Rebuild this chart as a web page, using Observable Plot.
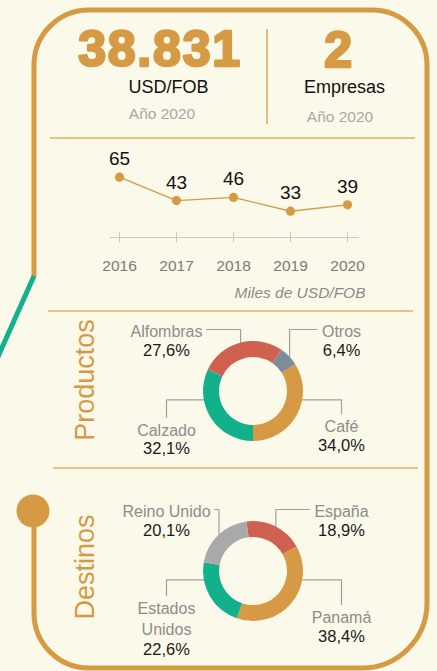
<!DOCTYPE html>
<html><head><meta charset="utf-8">
<script src="https://cdn.jsdelivr.net/npm/d3@7"></script>
<script src="https://cdn.jsdelivr.net/npm/@observablehq/plot@0.6"></script>
<style>
html,body{margin:0;padding:0;background:#FBF9EA;}
#root{position:relative;width:437px;height:671px;overflow:hidden;}
#root > svg, #root > figure{position:absolute;left:0;margin:0;}
</style></head>
<body><div id="root"></div>
<script>
// ---------- data ----------
const kpiValue = "38.831";
const kpiUnit = "USD/FOB";
const kpiYear = "Año 2020";
const firmsValue = "2";
const firmsUnit = "Empresas";
const firmsYear = "Año 2020";

const years = [2016, 2017, 2018, 2019, 2020];
const exportsK = [65, 43, 46, 33, 39];
const unitNote = "Miles de USD/FOB";

const productTitle = "Productos";
const productCats = ["Alfombras", "Otros", "Café", "Calzado"];
const productLabels = ["Alfombras", "Otros", "Café", "Calzado"];
const productShares = [27.6, 6.4, 34.0, 32.1];

const destTitle = "Destinos";
const destCats = ["España", "Panamá", "Estados Unidos", "Reino Unido"];
const destLabels = ["España", "Panamá", "Estados\nUnidos", "Reino Unido"];
const destShares = [18.9, 38.4, 22.6, 20.1];

// ---------- style ----------
const W = 437, H = 671;
const ORANGE = "#D69A45", GREEN = "#13B08C", RED = "#D0604F";
const SEP = "#E8C185";
const FONT = "'Liberation Sans',Arial,sans-serif";
const productColors = [RED, "#7E8C9A", ORANGE, GREEN];
const destColors = [RED, ORANGE, GREEN, "#A9A9A9"];
const NAME_FS = 16, PCT_FS = 16.5;

const root = document.getElementById("root");
const NS = "http://www.w3.org/2000/svg";
function el(tag, attrs, parent, text) {
  const e = document.createElementNS(NS, tag);
  for (const k in attrs) e.setAttribute(k, attrs[k]);
  if (text != null) e.textContent = text;
  parent.appendChild(e);
  return e;
}

// ---------- decorative frame ----------
const deco = el("svg", {width: W, height: H, viewBox: `0 0 ${W} ${H}`, style: "top:0"}, root);
el("path", {d: "M34,277 V65 A55,55 0 0 1 89,10 H372 A55,55 0 0 1 427,65 V603 A65,65 0 0 1 362,668 H89 A55,55 0 0 1 34,613 V510",
  fill: "none", stroke: ORANGE, "stroke-width": 5}, deco);
el("path", {d: "M34,276 L-4,361", stroke: GREEN, "stroke-width": 5, fill: "none"}, deco);
el("circle", {cx: 33, cy: 511, r: 16.5, fill: ORANGE}, deco);
el("line", {x1: 50, x2: 415, y1: 138, y2: 138, stroke: SEP, "stroke-width": 2}, deco);
el("line", {x1: 48, x2: 413, y1: 311, y2: 311, stroke: SEP, "stroke-width": 2}, deco);
el("line", {x1: 53, x2: 418, y1: 468, y2: 468, stroke: SEP, "stroke-width": 2}, deco);
el("line", {x1: 267, x2: 267, y1: 29, y2: 124, stroke: ORANGE, "stroke-width": 1.3}, deco);

// ---------- line chart ----------
const lineData = years.map((y, i) => ({year: y, value: exportsK[i]}));
const linePlot = Plot.plot({
  width: W, height: 175,
  marginTop: 0, marginLeft: 110, marginRight: 79, marginBottom: 78,
  style: {background: "transparent", fontFamily: FONT, overflow: "visible", color: "#111"},
  x: {type: "point", domain: years, range: [117, 348], padding: 0, label: null},
  y: {domain: [0, 65], range: [105.8, 36.7], axis: null},
  marks: [
    Plot.frame({anchor: "bottom", stroke: "#C9C9C9", strokeWidth: 1.2}),
    Plot.axisX({tickSize: 10, dy: -5, tickFormat: () => "", stroke: "#C9C9C9"}),
    Plot.axisX({tickSize: 0, tickPadding: 22, fontSize: 15.5, fill: "#7A7A7A", tickFormat: d => String(d)}),
    Plot.line(lineData, {x: "year", y: "value", stroke: ORANGE, strokeWidth: 1.4}),
    Plot.dot(lineData, {x: "year", y: "value", r: 4.6, fill: ORANGE}),
    Plot.text(lineData, {x: "year", y: "value", text: d => String(d.value), dy: -18, fontSize: 19, fill: "#111"}),
    Plot.text([unitNote], {frameAnchor: "bottom-right", dx: 7, dy: 60, textAnchor: "end", fontStyle: "italic", fontSize: 15.5, fill: "#8A8A8A"})
  ]
});
linePlot.style.top = "140px";
root.appendChild(linePlot);

// ---------- donuts ----------
const measureCtx = document.createElement("canvas").getContext("2d");
measureCtx.font = `${NAME_FS}px ${FONT}`;

function donut({cats, labels, shares, colors, startDeg, top, height, cy}) {
  const R = 50, rIn = 34, cx = 253;
  const color = Plot.scale({color: {type: "ordinal", domain: cats, range: colors}});
  const start = startDeg * Math.PI / 180;
  const arcs = d3.pie().sort(null).value(d => d.share).startAngle(start).endAngle(start + 2 * Math.PI)(
    cats.map((c, i) => ({cat: c, label: labels[i], share: shares[i]})));
  const u = v => v / R;
  const leaders = [], names = [], pcts = [];
  const topOff = 0.35 * NAME_FS + 1.5;
  arcs.forEach(a => {
    const mid = (a.startAngle + a.endAngle) / 2;
    const right = Math.sin(mid) > 0;
    const upper = Math.cos(mid) > 0;
    const lx = right ? 88 : -87;
    const ly = upper ? 62 : 68 * Math.cos(mid);
    const cat = a.data.cat;
    const nLines = a.data.label.split("\n").length;
    const w = d3.max(a.data.label.split("\n"), s => measureCtx.measureText(s).width);
    names.push({cat, text: a.data.label, x: u(lx), y: u(ly + topOff)});
    pcts.push({cat, text: a.data.share.toFixed(1).replace(".", ",") + "%", x: u(lx), y: u(ly + topOff - 22 * nLines)});
    if (upper) {
      const edge = right ? lx - w / 2 - 5 : lx + w / 2 + 4;
      leaders.push({cat, x: Math.sin(mid), y: Math.cos(mid)});
      leaders.push({cat, x: Math.sin(mid), y: u(ly)});
      leaders.push({cat, x: u(edge), y: u(ly)});
    } else {
      let th = right ? Math.PI / 2 + 0.17 : 3 * Math.PI / 2 - 0.17;
      while (th < a.startAngle) th += 2 * Math.PI;
      while (th > a.endAngle) th -= 2 * Math.PI;
      th = Math.max(a.startAngle + 0.05, Math.min(a.endAngle - 0.05, th));
      leaders.push({cat, x: Math.sin(th), y: Math.cos(th)});
      leaders.push({cat, x: u(lx), y: Math.cos(th)});
      leaders.push({cat, x: u(lx), y: u(ly + 10.5)});
    }
  });
  const ring = (...args) => {
    const scales = args.find(s => s && typeof s.x === "function" && typeof s.y === "function");
    const X = scales ? scales.x : (v => cx + v * R);
    const Y = scales ? scales.y : (v => cy - v * R);
    const cxp = X(0), cyp = Y(0), Rp = X(1) - X(0), rp = Rp * rIn / R;
    const arc = d3.arc().innerRadius(rp).outerRadius(Rp);
    const g = d3.create("svg:g").attr("transform", `translate(${cxp},${cyp})`);
    g.selectAll("path").data(arcs).join("path").attr("d", arc).attr("fill", d => color.apply(d.data.cat));
    return g.node();
  };
  const p = Plot.plot({
    width: W, height, margin: 0,
    style: {background: "transparent", fontFamily: FONT, overflow: "visible"},
    x: {domain: [-1, 1], range: [cx - R, cx + R], axis: null},
    y: {domain: [-1, 1], range: [cy + R, cy - R], axis: null},
    marks: [
      Plot.line(leaders, {x: "x", y: "y", z: "cat", stroke: "#A0A0A0", strokeWidth: 1.2}),
      ring,
      Plot.text(names, {x: "x", y: "y", text: "text", lineAnchor: "top", lineHeight: 1.3, fontSize: NAME_FS, fill: "#8C8C8C"}),
      Plot.text(pcts, {x: "x", y: "y", text: "text", lineAnchor: "top", fontSize: PCT_FS, fill: "#1A1A1A"})
    ]
  });
  p.style.top = top + "px";
  root.appendChild(p);
}
donut({cats: productCats, labels: productLabels, shares: productShares, colors: productColors, startDeg: -64.6, top: 311, height: 157, cy: 80});
donut({cats: destCats, labels: destLabels, shares: destShares, colors: destColors, startDeg: -7.5, top: 468, height: 203, cy: 103});

// ---------- header & titles ----------
const over = el("svg", {width: W, height: H, viewBox: `0 0 ${W} ${H}`, style: "top:0;pointer-events:none"}, root);
const big = {"font-family": "'Liberation Sans',Arial,sans-serif", "font-weight": "bold", "font-size": 50,
  fill: ORANGE, stroke: ORANGE, "stroke-width": 2.6, "stroke-linejoin": "round", "text-anchor": "middle", "letter-spacing": 1.8};
el("text", {...big, x: 160, y: 66}, over, kpiValue);
el("text", {...big, x: 339, y: 67}, over, firmsValue);
const mid = {"font-family": FONT, "text-anchor": "middle"};
el("text", {...mid, x: 168.5, y: 93, "font-size": 18, fill: "#111"}, over, kpiUnit);
el("text", {...mid, x: 344.5, y: 93, "font-size": 18, fill: "#111"}, over, firmsUnit);
el("text", {...mid, x: 162, y: 119, "font-size": 15.5, fill: "#A8A8A8"}, over, kpiYear);
el("text", {...mid, x: 340, y: 122, "font-size": 15.5, fill: "#A8A8A8"}, over, firmsYear);
el("text", {...mid, x: 0, y: 0, "font-size": 27, fill: ORANGE, transform: "translate(94,380) rotate(-90)"}, over, productTitle);
el("text", {...mid, x: 0, y: 0, "font-size": 27, fill: ORANGE, transform: "translate(94,567) rotate(-90)"}, over, destTitle);
</script>
</body></html>
